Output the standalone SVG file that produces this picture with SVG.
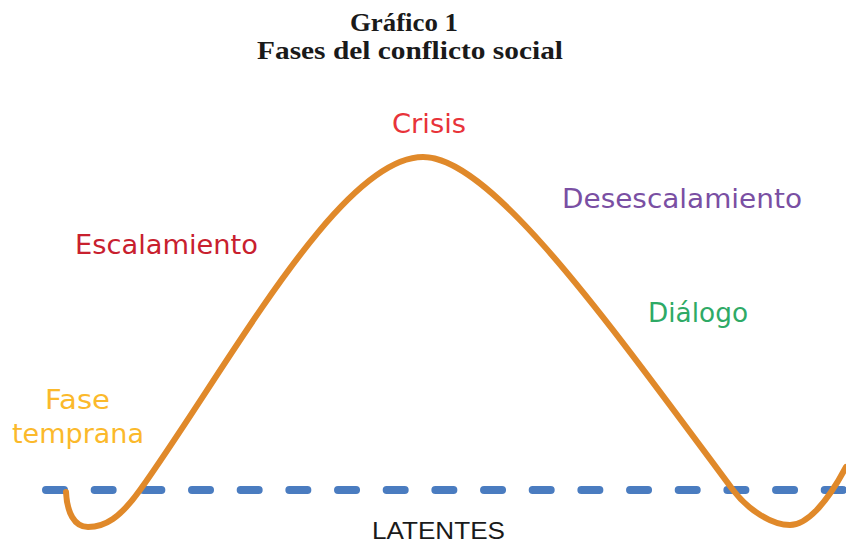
<svg xmlns="http://www.w3.org/2000/svg" width="846" height="545" viewBox="0 0 846 545">
  <style>
    .title { font-family: "Liberation Serif", "Times New Roman", serif; font-weight: bold; font-size: 25px; fill: #1a1a1a; }
    .lbl { font-family: "DejaVu Sans", "Liberation Sans", sans-serif; font-size: 26px; }
    .lat { font-family: "Liberation Sans", Arial, sans-serif; font-size: 23px; fill: #1a1a1a; }
    .curve { fill: none; stroke: #E0892A; stroke-width: 6; stroke-linecap: round; stroke-linejoin: round; }
    .base { fill: none; stroke: #4A7CC0; stroke-width: 8; stroke-linecap: round; stroke-dasharray: 18 30.67; }
  </style>
  <rect width="846" height="545" fill="#ffffff"/>

  <g id="title">
    <text class="title" x="350" y="31" textLength="108" lengthAdjust="spacingAndGlyphs">Gráfico 1</text>
    <text class="title" x="257" y="59" textLength="306" lengthAdjust="spacingAndGlyphs">Fases del conflicto social</text>
  </g>

  <g id="connectors">
    <path id="baseline" class="base" d="M46,490 H846"/>
    <path id="conflict-curve" class="curve" d="M66,492 C67,512 74,527 88,527 C105,527 120,518 140,490 C230,364 340,157 423,157 C490,157 603,315 733,490 C748,510 772,525 790,525 C806,525 826,505 846,467"/>
  </g>

  <g id="fase-temprana">
    <text class="lbl" x="45" y="409" fill="#FBB92B" textLength="65" lengthAdjust="spacingAndGlyphs">Fase</text>
    <text class="lbl" x="12" y="443" fill="#FBB92B" textLength="132" lengthAdjust="spacingAndGlyphs">temprana</text>
  </g>
  <g id="escalamiento">
    <text class="lbl" x="75" y="254" fill="#C8202E" textLength="183" lengthAdjust="spacingAndGlyphs">Escalamiento</text>
  </g>
  <g id="crisis">
    <text class="lbl" x="392" y="133" fill="#E8333A" textLength="74" lengthAdjust="spacingAndGlyphs">Crisis</text>
  </g>
  <g id="desescalamiento">
    <text class="lbl" x="562" y="208" fill="#7A4FA3" textLength="240" lengthAdjust="spacingAndGlyphs">Desescalamiento</text>
  </g>
  <g id="dialogo">
    <text class="lbl" x="648" y="322" fill="#2EAA66" textLength="100" lengthAdjust="spacingAndGlyphs">Diálogo</text>
  </g>
  <g id="latentes">
    <text class="lat" x="372" y="539" textLength="133" lengthAdjust="spacingAndGlyphs">LATENTES</text>
  </g>
</svg>
